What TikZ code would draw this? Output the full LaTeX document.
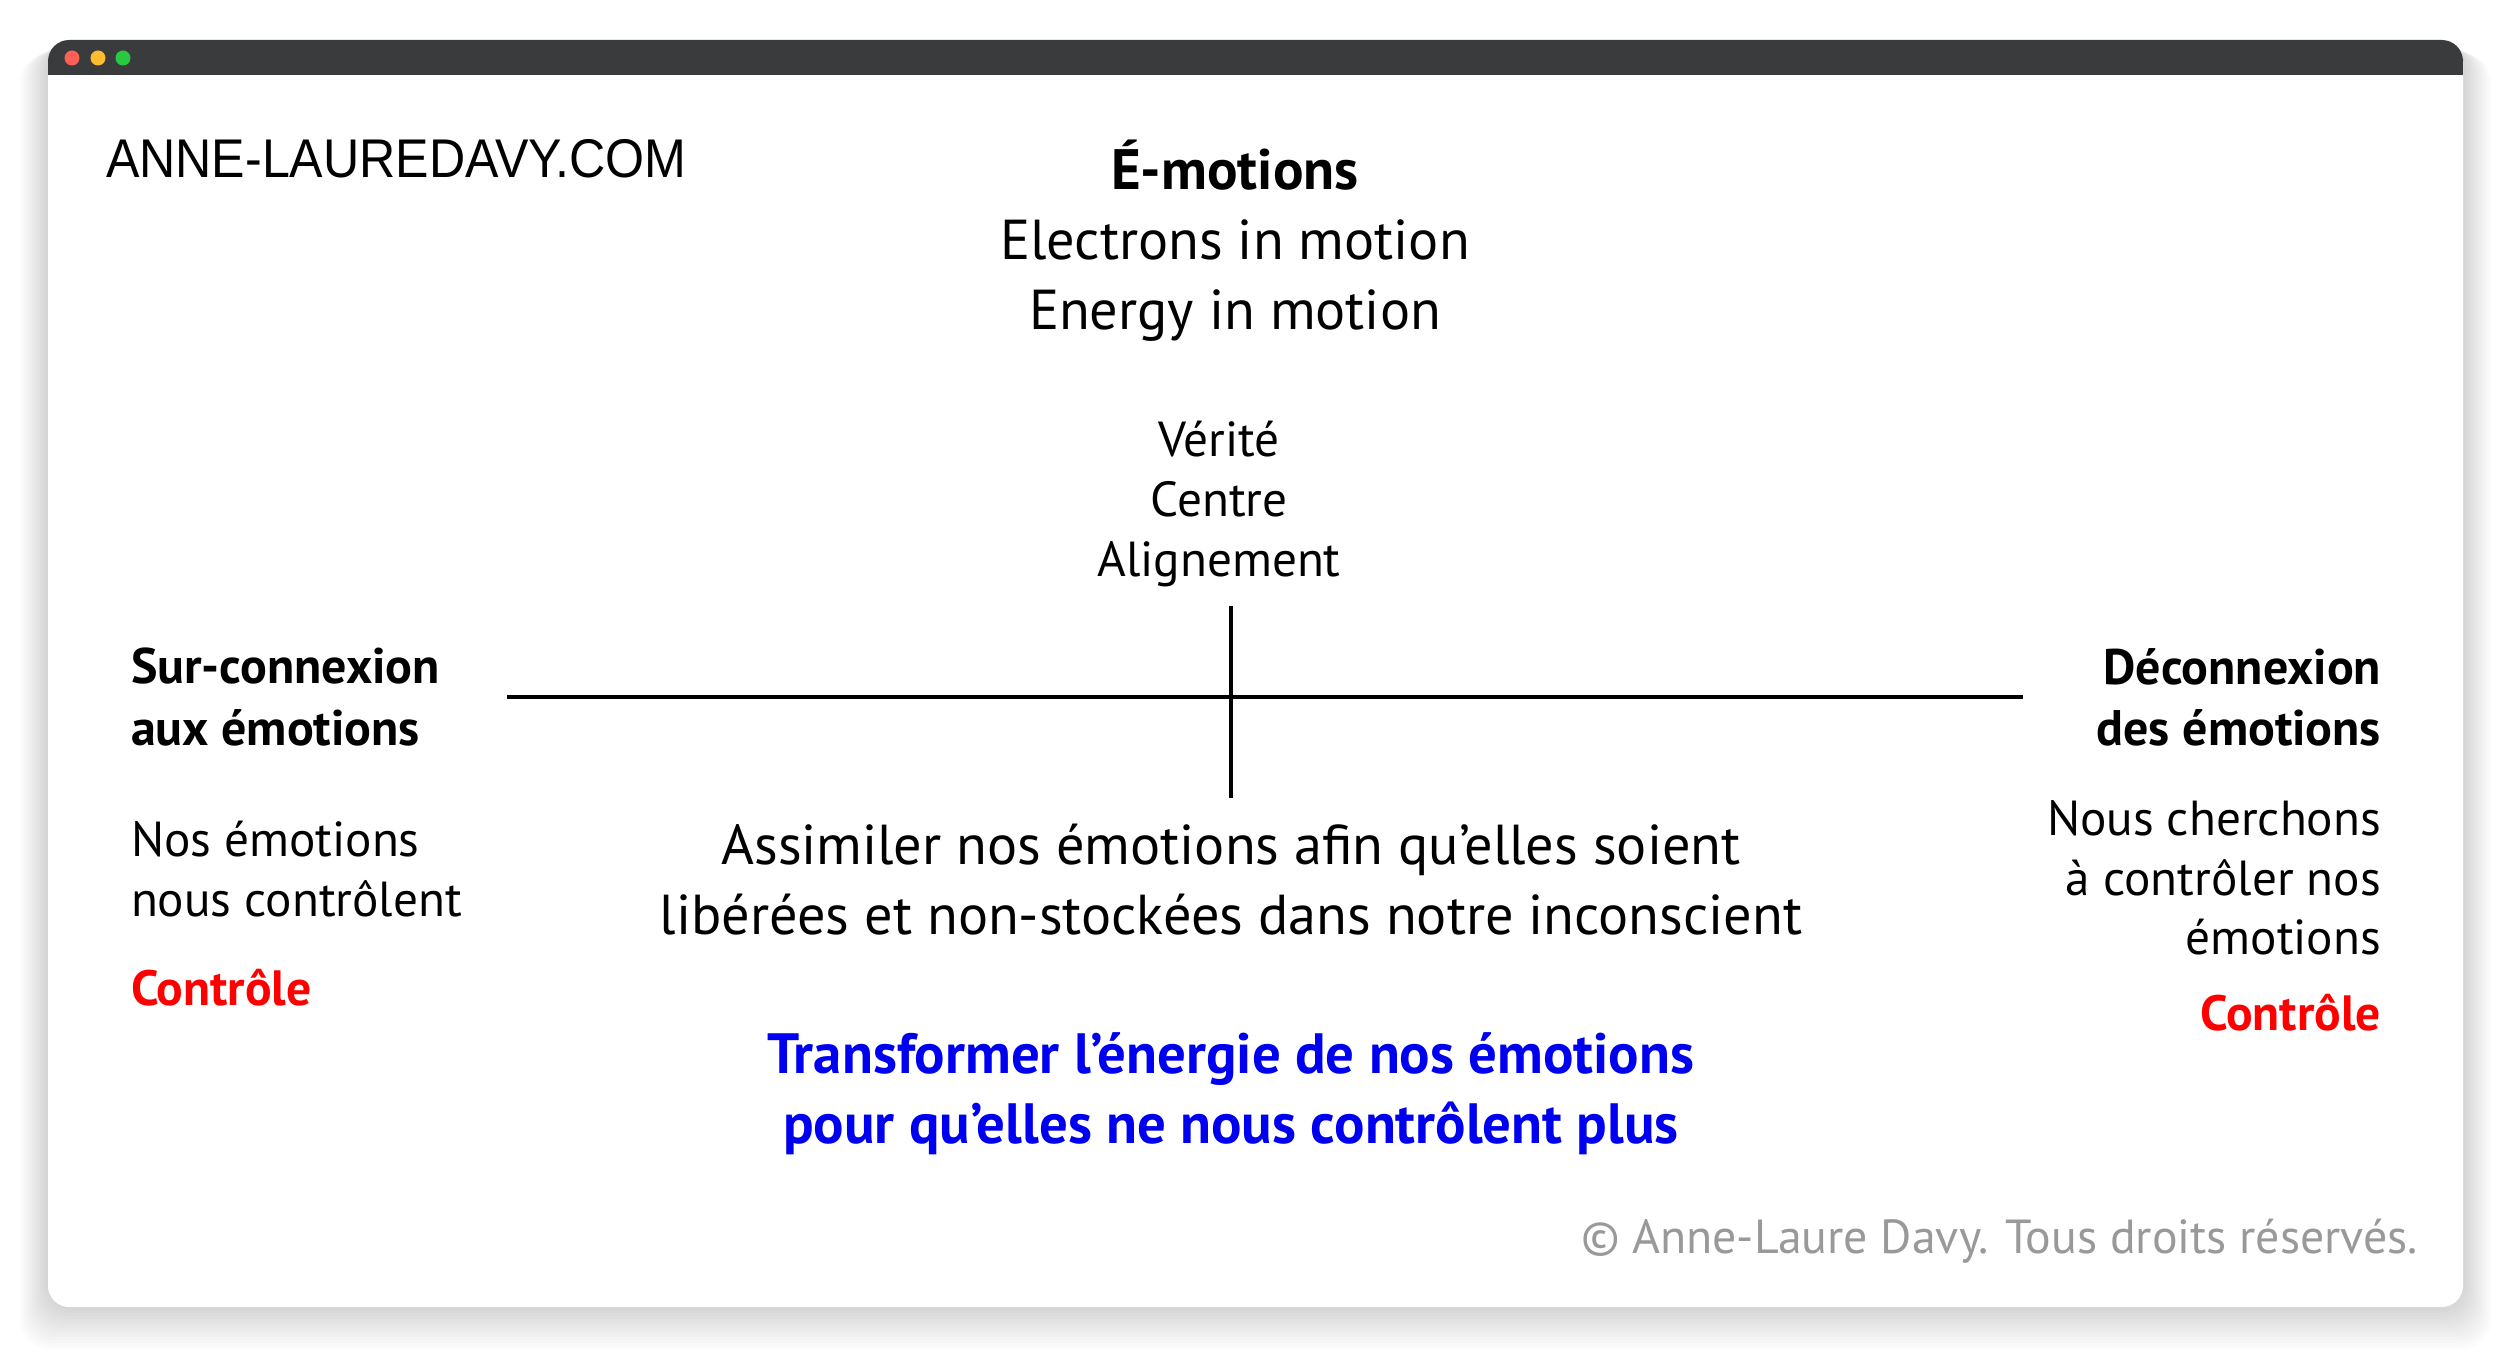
\documentclass[tikz,border=0pt]{standalone}
\usepackage{fontspec}
\setmainfont{PT Sans}
\newfontfamily\sitefont[FakeStretch=0.92]{Liberation Sans}
\usetikzlibrary{positioning}
\definecolor{BarGrey}{HTML}{3A3B3D}
\definecolor{DotRed}{HTML}{FE5F57}
\definecolor{DotYellow}{HTML}{FEBC2E}
\definecolor{DotGreen}{HTML}{28C840}
\definecolor{CtrlRed}{HTML}{FF0000}
\definecolor{TransBlue}{HTML}{0000F0}
\definecolor{NoteGrey}{HTML}{999999}

\begin{document}
\begin{tikzpicture}[
  x=0.01cm,y=-0.01cm,
  every node/.style={inner sep=0pt,outer sep=0pt},
  head/.style={font=\fontsize{14.2}{17.4}\selectfont\bfseries},
  body/.style={font=\fontsize{14}{17}\selectfont},
  big/.style={font=\fontsize{16}{19.9}\selectfont,align=center},
  ctrl/.style={font=\fontsize{14.1}{17}\selectfont\bfseries,text=CtrlRed},
  axis/.style={line width=1.1pt}
]
\useasboundingbox (0,0) rectangle (2514,1352);
\fill[white] (0,0) rectangle (2514,1352);
% soft shadow round the window
\foreach \k in {1,...,14}
  \fill[black,opacity=0.011,rounded corners=8]
    (48-2*\k,40+\k) rectangle (2463+2*\k,1307+3*\k);
\fill[white,rounded corners=6] (48,40) rectangle (2463,1307);
\fill[BarGrey,rounded corners=6] (48,40) rectangle (2463,80);
\fill[BarGrey] (48,60) rectangle (2463,75);
\fill[white] (48,75) rectangle (2463,80);
\fill[DotRed] (72,58) circle (7.5);
\fill[DotYellow] (98,58) circle (7.5);
\fill[DotGreen] (123,58) circle (7.5);

\node[anchor=west,font=\sitefont\fontsize{15.5}{18}\selectfont] (site) at (106,159) {ANNE-LAUREDAVY.COM};

% top
\node[font=\fontsize{16.2}{20}\selectfont\bfseries] (emo) at (1235,165) {É-motions};
\node[big] (motion) at (1235,281) {Electrons in motion\\Energy in motion};
\node[body,align=center] (truth) at (1219,504) {Vérité\\Centre\\Alignement};

% cross
\coordinate (west) at (507,697);
\coordinate (east) at (2023,697);
\coordinate (north) at (1231,606);
\coordinate (south) at (1231,798);
\draw[axis] (west) -- (east);
\draw[axis] (north) -- (south);

% left side
\node[head,align=left,anchor=west] (over) at (131,697) {Sur-connexion\\aux émotions};
\node[body,align=left,anchor=west] (overtxt) at (131,869) {Nos émotions\\nous contrôlent};
\node[ctrl,anchor=west] (overctrl) at (131,988) {Contrôle};

% right side
\node[head,align=right,anchor=east] (dis) at (2381,697) {Déconnexion\\des émotions};
\node[body,align=right,anchor=east] (distxt) at (2381,878) {Nous cherchons\\à contrôler nos\\émotions};
\node[ctrl,anchor=east] (disctrl) at (2381,1013) {Contrôle};

% middle
\node[big] (assim) at (1231,880) {Assimiler nos émotions afin qu’elles soient\\libérées et non-stockées dans notre inconscient};
\node[big,text=TransBlue,font=\fontsize{16.15}{19.9}\selectfont\bfseries] (trans) at (1231,1094) {Transformer l’énergie de nos émotions\\pour qu’elles ne nous contrôlent plus};

\node[anchor=east,text=NoteGrey,font=\fontsize{13.6}{17}\selectfont] (copy) at (2418,1241) {© Anne-Laure Davy. Tous droits réservés.};
\end{tikzpicture}
\end{document}
